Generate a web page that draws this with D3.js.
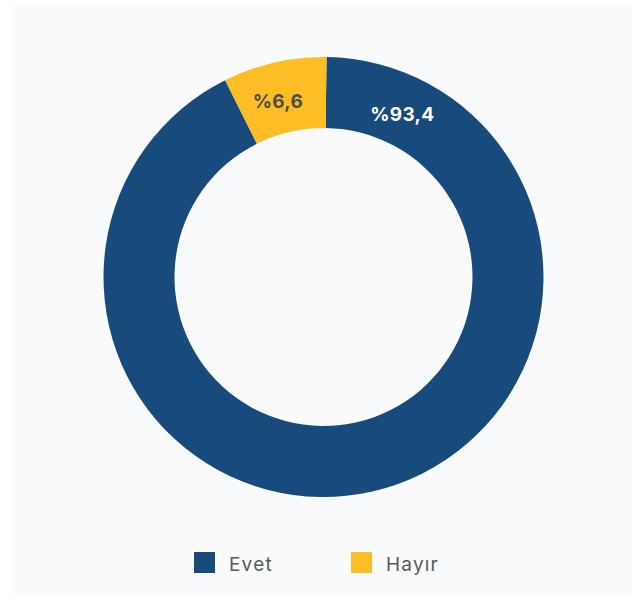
<!DOCTYPE html>
<html>
<head>
<meta charset="utf-8">
<script src="https://cdn.jsdelivr.net/npm/d3@7"></script>
<style>
  html, body { margin: 0; padding: 0; background: #ffffff; }
  svg { display: block; }
</style>
</head>
<body>
<svg id="chart" width="636" height="595"></svg>
<script>
// ---- data ----
const categories = ["Evet", "Hayır"];
const shares = [92.4, 7.6];            // slice sizes
const labelTexts = ["%93,4", "%6,6"];  // printed labels
const colors = ["#184a7b", "#fdbe25"];
const labelColors = ["#ffffff", "#4d4d4d"];
const labelAngleDeg = [25.8, -14.6];

// ---- layout ----
const W = 636, H = 595;
const cx = 323.5, cy = 277;
const outerR = 220, innerR = 149;
const rot = 0.8 * Math.PI / 180;
const font = "Inter, 'Open Sans', sans-serif";

const svg = d3.select("#chart");

svg.append("rect")
  .attr("x", 12).attr("y", 5)
  .attr("width", 620).attr("height", 589)
  .attr("fill", "#f8fafc");

const data = categories.map((c, i) => ({ cat: c, value: shares[i], label: labelTexts[i], i }));

const pie = d3.pie().value(d => d.value).sort(null)
  .startAngle(rot).endAngle(rot + 2 * Math.PI);
const arc = d3.arc().innerRadius(innerR).outerRadius(outerR);

const g = svg.append("g").attr("transform", `translate(${cx},${cy})`);

g.selectAll("path")
  .data(pie(data))
  .join("path")
  .attr("d", arc)
  .attr("fill", d => colors[d.data.i]);

const labelArc = d3.arc().innerRadius(181).outerRadius(181);
g.selectAll("text.lbl")
  .data(pie(data))
  .join("text")
  .attr("class", "lbl")
  .attr("transform", d => {
    const a = labelAngleDeg[d.data.i] * Math.PI / 180;
    const [x, y] = labelArc.centroid({ startAngle: a, endAngle: a });
    return `translate(${x},${y})`;
  })
  .attr("text-anchor", "middle")
  .attr("dominant-baseline", "central")
  .attr("font-family", font)
  .attr("font-weight", 700)
  .attr("font-size", 19)
  .attr("letter-spacing", 0.3)
  .attr("fill", d => labelColors[d.data.i])
  .text(d => d.data.label);

// ---- legend ----
const legendX = [194, 351];
const leg = svg.append("g");
const items = leg.selectAll("g").data(data).join("g")
  .attr("transform", d => `translate(${legendX[d.i]},552)`);
items.append("rect")
  .attr("width", 21).attr("height", 21)
  .attr("fill", d => colors[d.i]);
items.append("text")
  .attr("x", 35).attr("y", 18.5)
  .attr("font-family", font)
  .attr("font-size", 19)
  .attr("letter-spacing", 1.2)
  .attr("fill", "#5a5a5a")
  .text(d => d.cat);
</script>
</body>
</html>
